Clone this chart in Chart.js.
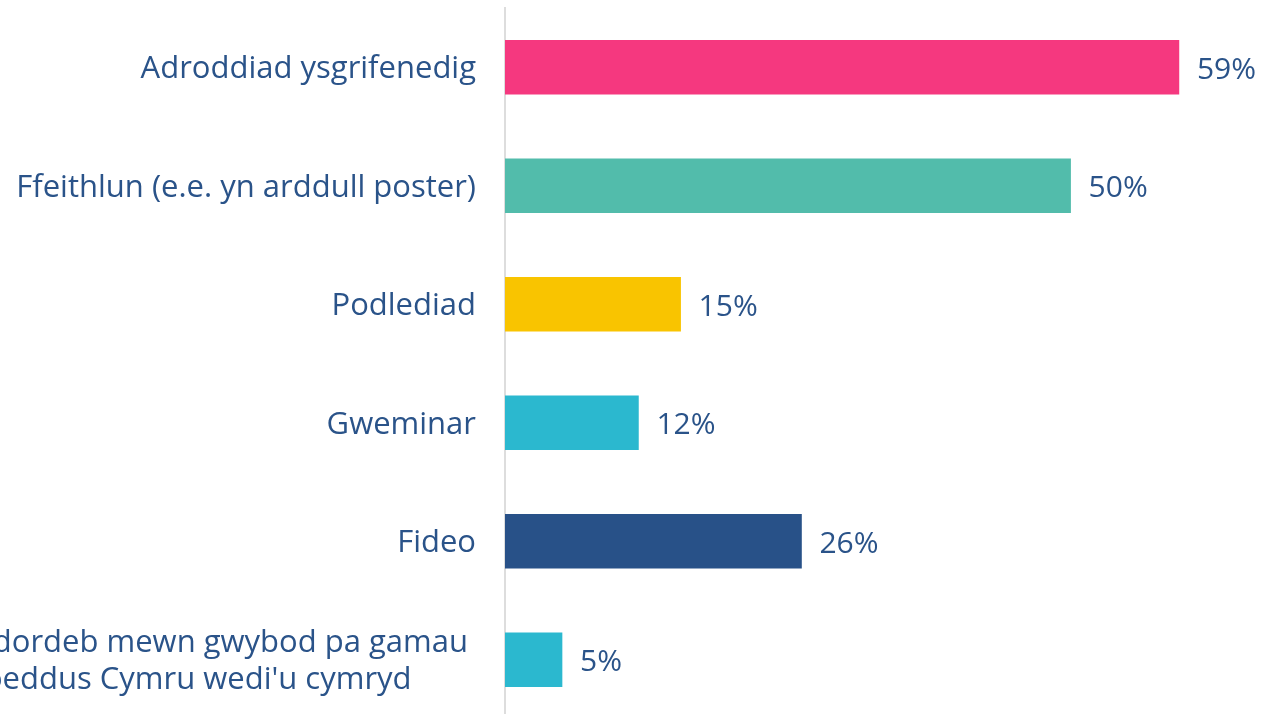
<!DOCTYPE html>
<html>
<head>
<meta charset="utf-8">
<script src="https://cdn.jsdelivr.net/npm/chart.js@4"></script>
<style>
  html, body { margin:0; padding:0; overflow:hidden; background:#fff; }
  #wrap { position:absolute; left:0; top:0; width:1261px; height:719px; }
</style>
</head>
<body>
<div id="wrap"><canvas id="chart"></canvas></div>
<script>
const categories = [
  "Adroddiad ysgrifenedig",
  "Ffeithlun (e.e. yn arddull poster)",
  "Podlediad",
  "Gweminar",
  "Fideo",
  ["Dim diddordeb mewn gwybod pa gamau ", "mae Iechyd Cyhoeddus Cymru wedi'u cymryd\u00a0\u00a0\u00a0\u00a0\u00a0\u00a0\u00a0\u00a0"]
];
const values = [59.1, 49.6, 15.4, 11.7, 26.0, 5.0];
const barColors = ["#f5387f", "#52bcab", "#f9c400", "#2bb8cf", "#285188", "#2bb8cf"];

const textColor = "#2a5389";
const fontFamily = "'Open Sans', sans-serif";

/* value labels at end of bars */
const valueLabels = {
  id: "valueLabels",
  afterDatasetsDraw(chart){
    const ctx = chart.ctx;
    const meta = chart.getDatasetMeta(0);
    ctx.save();
    ctx.font = "30px " + fontFamily;
    ctx.fillStyle = textColor;
    ctx.textAlign = "left";
    ctx.textBaseline = "middle";
    meta.data.forEach((bar, i)=>{
      ctx.fillText(Math.round(values[i]) + "%", bar.x + 18, bar.y + 3);
    });
    ctx.restore();
  }
};

new Chart(document.getElementById("chart"), {
  type: "bar",
  data: {
    labels: categories,
    datasets: [{
      data: values,
      backgroundColor: barColors,
      barThickness: 54
    }]
  },
  options: {
    indexAxis: "y",
    responsive: true,
    maintainAspectRatio: false,
    animation: false,
    layout: { padding: { top: 8, right: 0, bottom: 0, left: 0 } },
    plugins: { legend: { display: false }, tooltip: { enabled: false } },
    scales: {
      x: { display: false, min: 0, max: 66.3 },
      y: {
        grid: { display: false, drawTicks: false },
        border: { display: true, color: "#dddddd", width: 2 },
        ticks: {
          color: textColor,
          padding: 29,
          labelOffset: 2,
          font: { family: fontFamily, size: 31, lineHeight: 1.2 }
        },
        afterFit(scale){
          scale.width = 505;
          scale.paddingTop = 0;
          scale.paddingBottom = 0;
        }
      }
    }
  },
  plugins: [valueLabels]
});
</script>
</body>
</html>
